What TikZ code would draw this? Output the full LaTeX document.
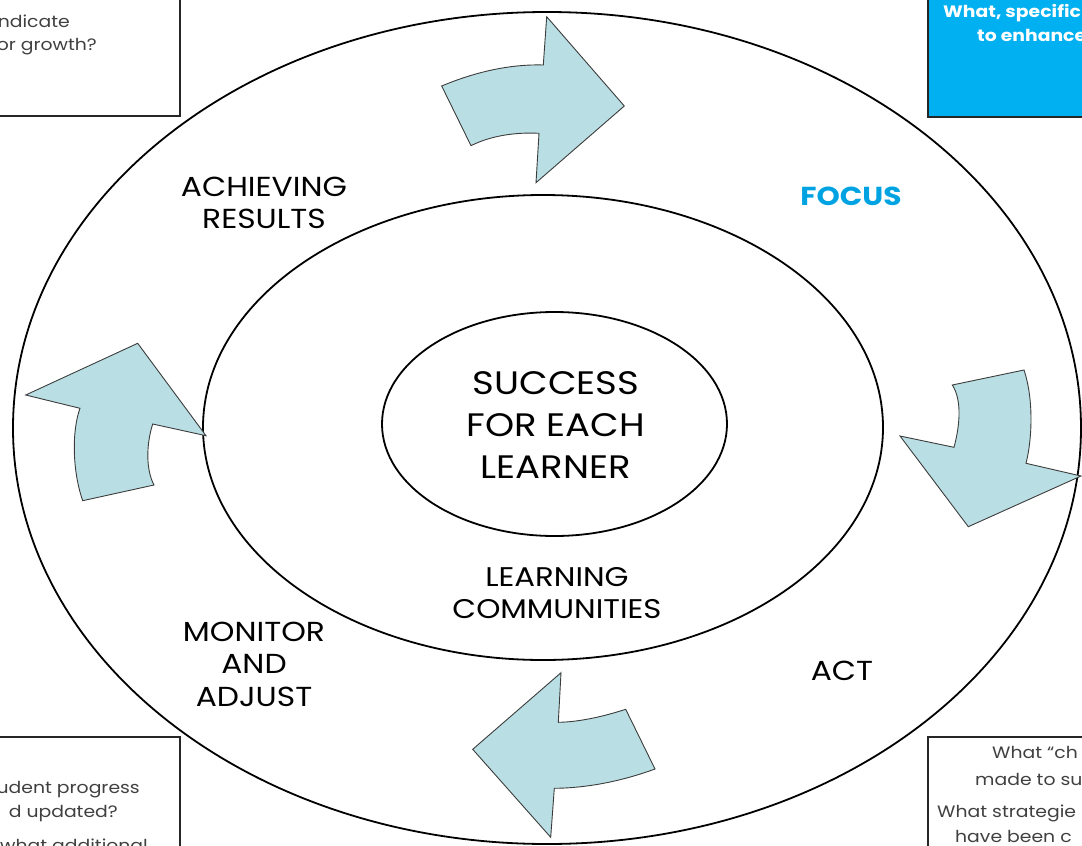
\documentclass[tikz,border=0pt]{standalone}
\usepackage{fontspec}
\setmainfont{Poppins}[FakeStretch=1.14]
\definecolor{arrowfill}{RGB}{185,223,228}
\definecolor{arrowline}{RGB}{60,60,60}
\definecolor{boxblue}{RGB}{0,176,240}
\definecolor{focusblue}{RGB}{0,163,226}
\definecolor{boxtext}{RGB}{64,64,64}
\tikzset{
  ring/.style={draw=black,line width=1.8pt},
  cyclearrow/.style={fill=arrowfill,draw=arrowline,line width=0.9pt,line join=miter},
  qbox/.style={draw=black!85,line width=1.8pt,fill=white},
  lbl/.style={align=center,inner sep=0pt,font=\fontsize{27.5}{32.5}\selectfont},
  boxtxt/.style={inner sep=0pt,text=boxtext,font=\fontsize{16.5}{20}\selectfont}
}
\begin{document}
\begin{tikzpicture}[x=1pt,y=-1pt]
\useasboundingbox (0,0) rectangle (1082,846);
\clip (0,0) rectangle (1082,846);
% ellipses
\draw[ring] (547,428) ellipse [x radius=534, y radius=416];
\draw[ring] (543,427.5) ellipse [x radius=340, y radius=232.5];
\draw[ring] (554.5,424) ellipse [x radius=172.5, y radius=112];
% boxes
\draw[qbox] (-10,-10) rectangle (180,116);
\draw[qbox,fill=boxblue] (928,-10) rectangle (1095,117);
\draw[qbox] (-10,737) rectangle (180,860);
\draw[qbox] (928,737) rectangle (1095,860);
% box texts
\node[boxtxt,anchor=base east] (t1) at (70,27) {ndicate};
\node[boxtxt,anchor=base east] (t2) at (97,50) {or growth?};
\node[boxtxt,anchor=base west,text=white,font=\bfseries\fontsize{16.5}{20}\selectfont] (t3) at (943,17) {What, specific};
\node[boxtxt,anchor=base west,text=white,font=\bfseries\fontsize{16.5}{20}\selectfont] (t4) at (977,41) {to enhance};
\node[boxtxt,anchor=base east] (t5) at (140,793) {udent progress};
\node[boxtxt,anchor=base east] (t6) at (118,817) {d updated?};
\node[boxtxt,anchor=base east] (t7) at (148,851) {what additional};
\node[boxtxt,anchor=base west] (t8) at (992,758) {What “ch};
\node[boxtxt,anchor=base west] (t9) at (975,785) {made to su};
\node[boxtxt,anchor=base west] (t10) at (937,817) {What strategie};
\node[boxtxt,anchor=base west] (t11) at (955,842) {have been c};
% arrows
\draw[cyclearrow] (441.7,86) .. controls (475,72) and (510,64) .. (543.3,65)
  -- (546.7,16.7) -- (624.3,106) -- (536,182.7) -- (539,133.3)
  .. controls (515,132) and (490,136) .. (471,145.7) -- cycle;
\draw[cyclearrow] (952.3,385) -- (1024,370) .. controls (1034,400) and (1032,440) .. (1026,463.3)
  -- (1081,476) -- (968.3,526.7) -- (900,436) -- (954,447.3)
  .. controls (960,425) and (962,400) .. cycle;
\draw[cyclearrow] (472.7,749.3) -- (561,672.7) -- (558.3,722.3)
  .. controls (580,722) and (605,716) .. (625.7,709.3) -- (655,769)
  .. controls (625,780) and (590,788) .. (554.3,788.3) -- (550.7,837.3) -- cycle;
\draw[cyclearrow] (25.7,395) -- (137.7,343.3) -- (206,435.7) -- (152.7,424)
  .. controls (146,445) and (146,470) .. (154,485) -- (82.7,500.7)
  .. controls (72,470) and (72,430) .. (80,408.3) -- cycle;
% labels
\node[lbl] (achieve) at (264,203) {ACHIEVING\\RESULTS};
\node[lbl,text=focusblue,font=\bfseries\fontsize{26}{32.5}\selectfont] (focus) at (851,196) {FOCUS};
\node[lbl,font=\fontsize{32.5}{42}\selectfont] (success) at (556,425) {SUCCESS\\FOR EACH\\LEARNER};
\node[lbl,font=\fontsize{27}{32.5}\selectfont] (learning) at (557,593) {LEARNING\\COMMUNITIES};
\node[lbl] (monitor) at (254,664) {MONITOR\\AND\\ADJUST};
\node[lbl] (act) at (842,671) {ACT};
\end{tikzpicture}
\end{document}
